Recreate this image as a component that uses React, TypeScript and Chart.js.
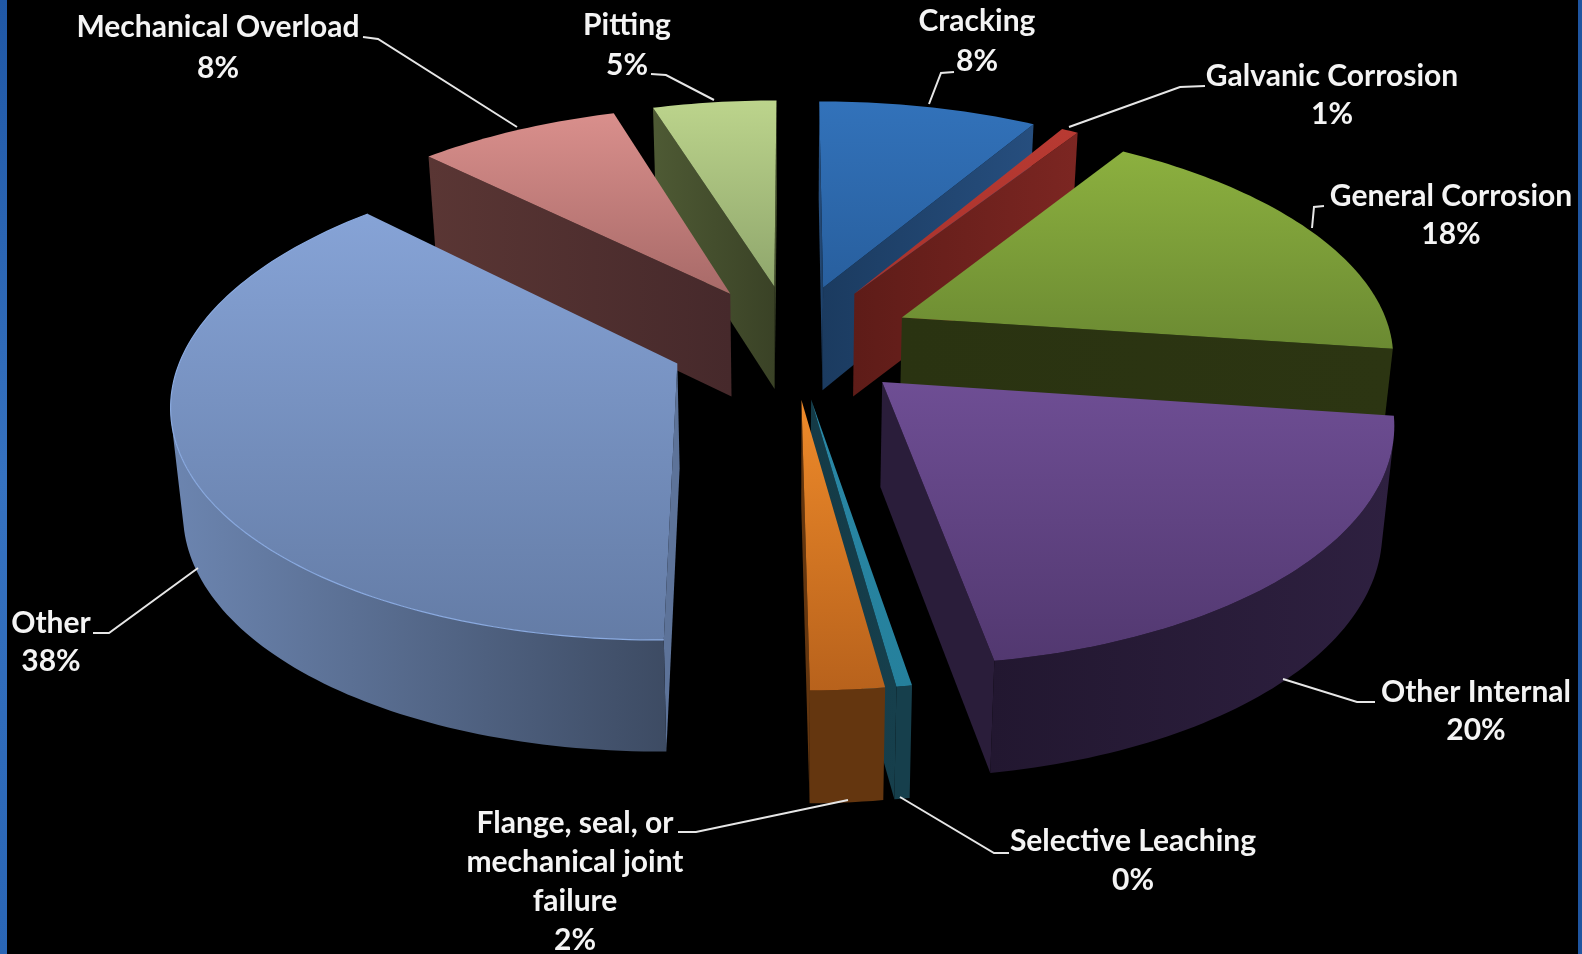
import React, { useEffect, useRef } from "react";
import { Chart, registerables } from "chart.js";

Chart.register(...registerables);

// Failure mechanisms, clockwise from twelve o'clock, with their share in percent.
const categories = [
  "Cracking",
  "Galvanic Corrosion",
  "General Corrosion",
  "Other Internal",
  "Selective Leaching",
  "Flange, seal, or mechanical joint failure",
  "Other",
  "Mechanical Overload",
  "Pitting",
];
const values = [8.45, 0.65, 18.1, 20.2, 0.42, 2.0, 37.6, 7.8, 4.78];

// Slice shading: top face (upper, lower), cut faces (rim end, centre end), outer wall (left, right), rim edge.
const topLight = ["#3272ba", "#b83a32", "#8cb03f", "#6e4e94", "#2a88a6", "#ee8a2a", "#86a3d6", "#d98f8c", "#bcd48c"];
const topDark = ["#285f9e", "#a8322c", "#6b8a32", "#523870", "#25809c", "#b8621c", "#647ca6", "#a86a68", "#8fa66c"];
const cutLight = ["#264e7e", "#7c2622", "#2c3512", "#2a1d3a", "#163f4c", "#64360f", "#5d7399", "#5a3634", "#4e5a34"];
const cutDark = ["#1b3b60", "#5e1c18", "#2a3311", "#2a1d3a", "#143a46", "#64360f", "#5d7399", "#46292b", "#3a4226"];
const wallLeft = ["#1b3b60", "#5e1c18", "#2a3311", "#221730", "#163f4c", "#64360f", "#6c85b0", "#46292b", "#3a4226"];
const wallRight = ["#264e7e", "#7c2622", "#2c3512", "#2e2040", "#163f4c", "#64360f", "#3d4b63", "#5a3634", "#4e5a34"];
const rimEdge = ["", "", "", "", "", "", "#8aaae0", "", ""];

// Callout placement: centre of the text block lines and the elbowed leader line.
const calloutLayout = [
  { cx: 977, ys: [21, 61], leader: [[954, 72], [941, 73], [929, 104]] },
  { cx: 1332, ys: [76, 114], leader: [[1205, 86], [1180, 87], [1069, 127]] },
  { cx: 1451, ys: [196, 234], leader: [[1324, 206], [1314, 207], [1312, 228]] },
  { cx: 1476, ys: [692, 730], leader: [[1375, 702], [1357, 702], [1283, 679]] },
  { cx: 1133, ys: [841, 880], leader: [[1009, 853], [994, 853], [900, 797]] },
  { cx: 575, ys: [823, 862, 901, 940], leader: [[678, 832], [696, 832], [848, 800]], lines: ["Flange, seal, or", "mechanical joint", "failure"] },
  { cx: 51, ys: [623, 661], leader: [[93, 633], [109, 633], [198, 568]] },
  { cx: 218, ys: [27, 68], leader: [[363, 37], [378, 39], [517, 127]] },
  { cx: 627, ys: [25, 65], leader: [[651, 74], [666, 75], [714, 100]] },
];

// Camera used to tilt the flat pie: the disc is foreshortened and nearer parts grow.
const VIEW = {
  cx: 792,
  cy: 341,
  radius: 491,
  squash: 0.465,
  perspective: 0.0003,
  depth: 104,
  depthGrowth: 0.4,
  depthConverge: 0.98,
};

type Pt = { x: number; y: number };

function project(mx: number, my: number, lower: boolean): Pt {
  const w = 1 / (1 - VIEW.perspective * my);
  const k = lower ? VIEW.depthConverge : 1;
  return {
    x: VIEW.cx + mx * w * k,
    y: VIEW.cy + VIEW.squash * my * w + (lower ? VIEW.depth * Math.pow(w, VIEW.depthGrowth) : 0),
  };
}

function area(p: Pt[]): number {
  let s = 0;
  p.forEach((a, i) => {
    const b = p[(i + 1) % p.length];
    s += a.x * b.y - b.x * a.y;
  });
  return s;
}

function fillPoly(ctx: CanvasRenderingContext2D, p: Pt[], style: CanvasGradient | string) {
  ctx.beginPath();
  p.forEach((a, i) => (i ? ctx.lineTo(a.x, a.y) : ctx.moveTo(a.x, a.y)));
  ctx.closePath();
  ctx.fillStyle = style;
  ctx.fill();
}

function drawSlice(ctx: CanvasRenderingContext2D, arc: any, i: number) {
  const mid = (arc.startAngle + arc.endAngle) / 2;
  // Explosion distance keeps its ratio to the radius that Chart.js laid out.
  const shift = ((arc.options.offset || 0) / arc.outerRadius) * VIEW.radius;
  const ax = shift * Math.cos(mid);
  const ay = shift * Math.sin(mid);
  const steps = Math.max(4, Math.ceil((arc.endAngle - arc.startAngle) / 0.02));
  const angles = Array.from({ length: steps + 1 }, (_, s) => arc.startAngle + ((arc.endAngle - arc.startAngle) * s) / steps);
  const rimModel = angles.map((t) => [ax + VIEW.radius * Math.cos(t), ay + VIEW.radius * Math.sin(t)]);
  const rimTop = rimModel.map(([x, y]) => project(x, y, false));
  const rimLow = rimModel.map(([x, y]) => project(x, y, true));
  const apexTop = project(ax, ay, false);
  const apexLow = project(ax, ay, true);

  // Cut faces fade from the lighter rim end to the darker centre end.
  const cutFill = (rim: Pt, apex: Pt) => {
    const g = ctx.createLinearGradient(rim.x, 0, apex.x + 0.01, 0);
    g.addColorStop(0, cutLight[i]);
    g.addColorStop(1, cutDark[i]);
    return g;
  };

  // The two cut faces, only when they turn towards the viewer.
  const startCut = [apexTop, rimTop[0], rimLow[0], apexLow];
  if (area(startCut) < 0) fillPoly(ctx, startCut, cutFill(rimTop[0], apexTop));
  const endCut = [apexTop, rimTop[steps], rimLow[steps], apexLow];
  if (area(endCut) > 0) fillPoly(ctx, endCut, cutFill(rimTop[steps], apexTop));

  // Outer wall: the run of rim segments that face forward.
  const front: number[] = [];
  for (let s = 0; s < steps; s++) {
    if (area([rimTop[s], rimTop[s + 1], rimLow[s + 1], rimLow[s]]) < 0) front.push(s);
  }
  if (front.length) {
    const first = front[0];
    const last = front[front.length - 1] + 1;
    const upper = rimTop.slice(first, last + 1);
    const lower = rimLow.slice(first, last + 1).reverse();
    const poly = upper.concat(lower);
    const xs = poly.map((p) => p.x);
    const g = ctx.createLinearGradient(Math.min(...xs), 0, Math.max(...xs) + 0.01, 0);
    g.addColorStop(0, wallLeft[i]);
    g.addColorStop(1, wallRight[i]);
    fillPoly(ctx, poly, g);
  }

  // Top face.
  const face = [apexTop, ...rimTop];
  const ys = face.map((p) => p.y);
  const tg = ctx.createLinearGradient(0, Math.min(...ys), 0, Math.max(...ys) + 0.01);
  tg.addColorStop(0, topLight[i]);
  tg.addColorStop(1, topDark[i]);
  fillPoly(ctx, face, tg);

  if (rimEdge[i]) {
    ctx.beginPath();
    rimTop.forEach((p, k) => (k ? ctx.lineTo(p.x, p.y) : ctx.moveTo(p.x, p.y)));
    ctx.strokeStyle = rimEdge[i];
    ctx.lineWidth = 1.2;
    ctx.stroke();
  }
}

const tiltedPie = {
  id: "tiltedPie",
  beforeDraw(chart: any) {
    const { ctx, width, height } = chart;
    ctx.save();
    ctx.fillStyle = "#000000";
    ctx.fillRect(0, 0, width, height);
    const side = ctx.createLinearGradient(0, 0, 0, height);
    side.addColorStop(0, "#2058a6");
    side.addColorStop(0.5, "#3672c0");
    side.addColorStop(1, "#2a66b6");
    ctx.fillStyle = side;
    ctx.fillRect(0, 0, 7, height);
    ctx.fillStyle = "#1f55a0";
    ctx.fillRect(width - 4, 0, 4, height);
    ctx.restore();
  },
  beforeDatasetsDraw(chart: any) {
    const { ctx } = chart;
    const arcs = chart.getDatasetMeta(0).data;
    // Paint from the back of the pie to the front.
    const order = arcs
      .map((arc: any, i: number) => ({ i, depth: Math.sin((arc.startAngle + arc.endAngle) / 2) }))
      .sort((a: any, b: any) => a.depth - b.depth);
    ctx.save();
    order.forEach(({ i }: any) => drawSlice(ctx, arcs[i], i));
    ctx.restore();
    drawCallouts(ctx);
    return false;
  },
};

function drawCallouts(ctx: CanvasRenderingContext2D) {
  const total = values.reduce((a, b) => a + b, 0);
  ctx.save();
  ctx.strokeStyle = "#e6e6e6";
  ctx.lineWidth = 2;
  ctx.fillStyle = "#f4f4f4";
  ctx.font = "700 30px Lato";
  ctx.textAlign = "center";
  ctx.textBaseline = "middle";
  calloutLayout.forEach((c, i) => {
    ctx.beginPath();
    c.leader.forEach(([x, y], k) => (k ? ctx.lineTo(x, y) : ctx.moveTo(x, y)));
    ctx.stroke();
    const lines = [...(c.lines ?? [categories[i]]), `${Math.round((values[i] / total) * 100)}%`];
    lines.forEach((t, k) => ctx.fillText(t, c.cx, c.ys[k]));
  });
  ctx.restore();
}

export default function App() {
  const ref = useRef<HTMLCanvasElement>(null);
  useEffect(() => {
    const chart = new Chart(ref.current!, {
      type: "pie",
      data: {
        labels: categories,
        datasets: [{ data: values, backgroundColor: topLight, borderWidth: 0, offset: 106 }],
      },
      options: {
        animation: false,
        responsive: false,
        layout: { padding: 0 },
        plugins: { legend: { display: false }, tooltip: { enabled: false } },
      },
      plugins: [tiltedPie],
    } as any);
    return () => chart.destroy();
  }, []);
  return (
    <div style={{ position: "fixed", left: 0, top: 0, width: 1582, height: 954, background: "#000" }}>
      <canvas ref={ref} width={1582} height={954} style={{ display: "block" }} />
    </div>
  );
}
